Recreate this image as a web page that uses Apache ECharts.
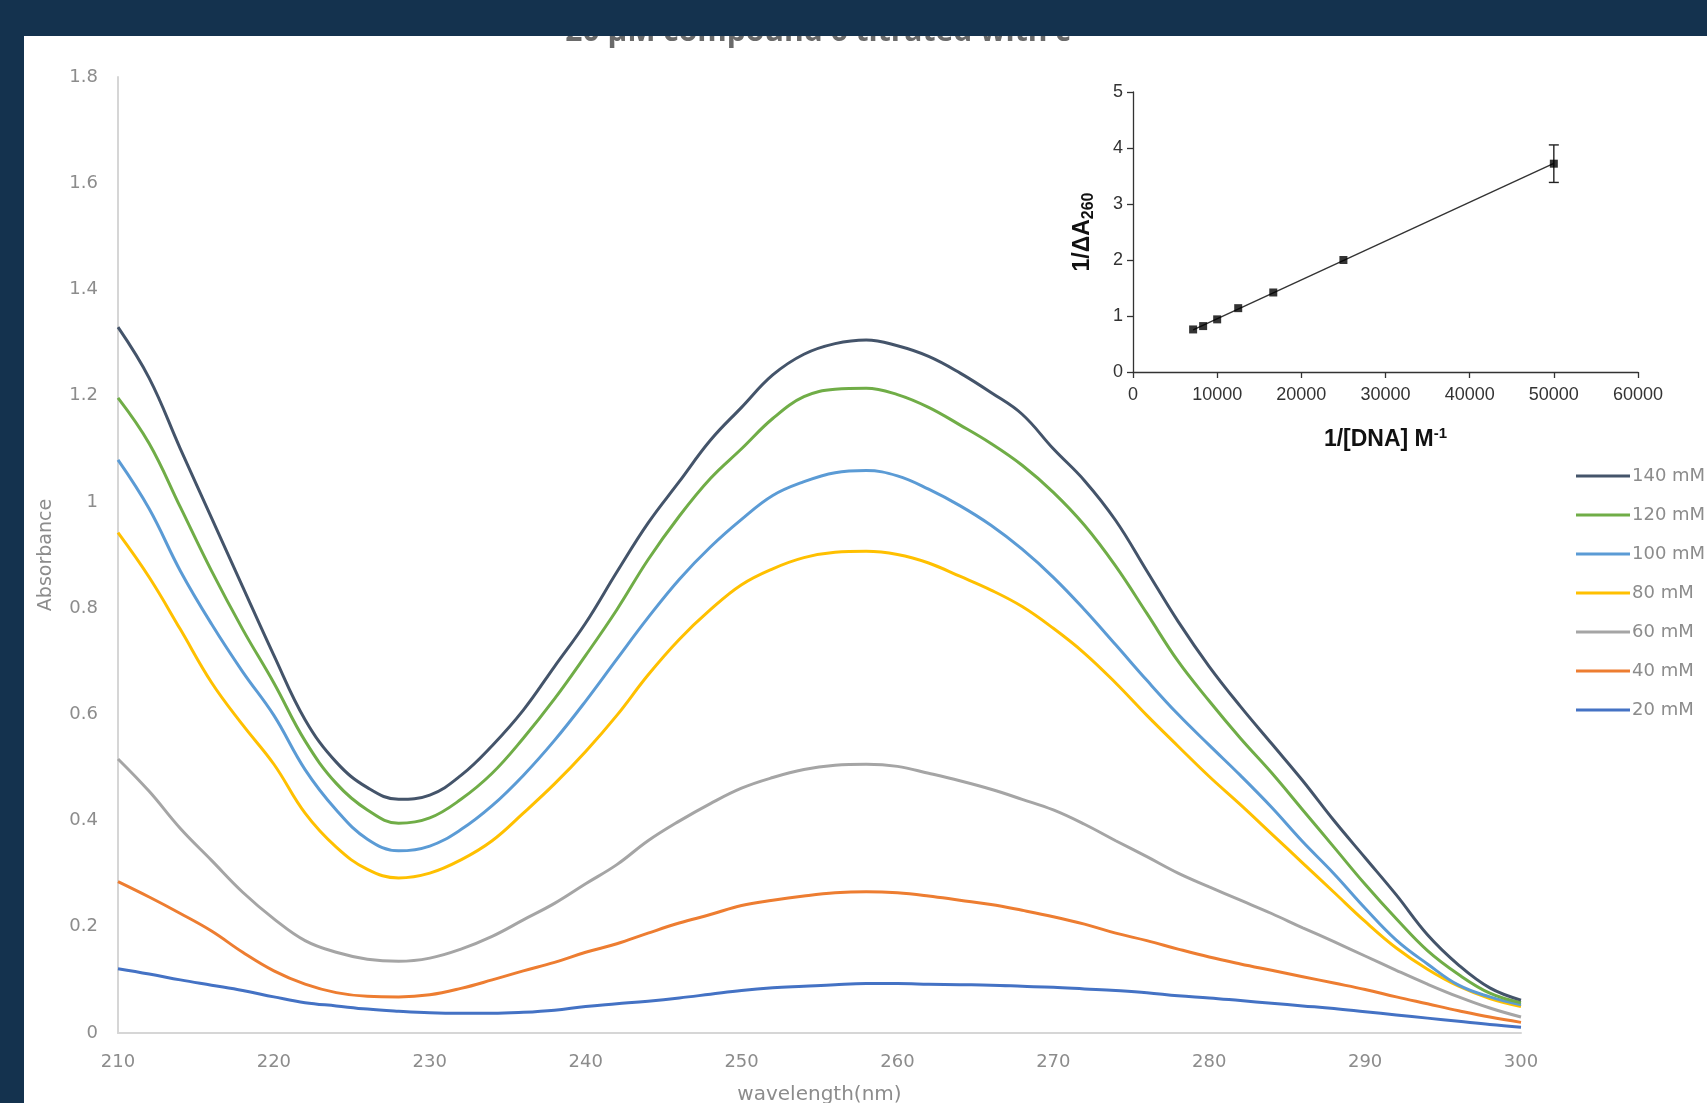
<!DOCTYPE html>
<html>
<head>
<meta charset="utf-8">
<script src="https://cdn.jsdelivr.net/npm/echarts@6/dist/echarts.min.js"></script>
<style>
html,body{margin:0;padding:0;width:1707px;height:1103px;overflow:hidden;background:#14324e;}
#chart{position:absolute;left:24px;top:36px;width:1683px;height:1067px;background:#ffffff;}
</style>
</head>
<body>
<div id="chart"></div>
<script>
// ---- main spectra data ----
const wavelengths = [210,212,214,216,218,220,222,224,226,228,230,232,234,236,238,240,242,244,246,248,250,252,254,256,258,260,262,264,266,268,270,272,274,276,278,280,282,284,286,288,290,292,294,296,298,300];
const seriesNames = ['140 mM','120 mM','100 mM','80 mM','60 mM','40 mM','20 mM'];
const abs140 = [1.329,1.233,1.10,0.97,0.84,0.711, 0.59,0.51,0.462,0.44,0.448,0.485,0.541,0.608,0.69,0.772, 0.868,0.96,1.038,1.116,1.178,1.239,1.278,1.298,1.305,1.294, 1.274,1.243,1.206,1.165,1.10,1.04,0.965,0.87,0.775,0.69, 0.615,0.545,0.475,0.40,0.33,0.26,0.185,0.128,0.085,0.062];
const abs120 = [1.196,1.11,0.99,0.87,0.76,0.659, 0.55,0.47,0.42,0.395,0.405,0.44,0.489,0.555,0.629,0.711, 0.797,0.891,0.973,1.044,1.10,1.157,1.198,1.212,1.214,1.202, 1.178,1.145,1.11,1.069,1.018,0.956,0.879,0.79,0.70,0.625, 0.555,0.49,0.42,0.35,0.28,0.215,0.155,0.11,0.075,0.057];
const abs100 = [1.079,0.987,0.87,0.77,0.68,0.598, 0.496,0.42,0.365,0.343,0.352,0.383,0.428,0.485,0.551,0.625, 0.704,0.782,0.854,0.915,0.967,1.012,1.038,1.055,1.059,1.049, 1.024,0.993,0.956,0.911,0.858,0.797,0.731,0.664,0.60,0.542, 0.485,0.425,0.36,0.30,0.235,0.175,0.13,0.09,0.068,0.053];
const abs80 = [0.942,0.858,0.76,0.66,0.58,0.506, 0.414,0.35,0.308,0.292,0.301,0.326,0.362,0.414,0.469,0.53, 0.598,0.674,0.741,0.797,0.844,0.874,0.895,0.905,0.907,0.901, 0.885,0.86,0.834,0.803,0.762,0.715,0.659,0.598,0.54,0.483, 0.43,0.375,0.32,0.265,0.21,0.16,0.12,0.088,0.065,0.05];
const abs60 = [0.516,0.455,0.385,0.325,0.265,0.215, 0.174,0.152,0.139,0.135,0.141,0.158,0.182,0.213,0.244,0.281, 0.317,0.362,0.399,0.432,0.461,0.481,0.496,0.504,0.506,0.502, 0.489,0.475,0.459,0.44,0.42,0.393,0.362,0.332,0.301,0.275, 0.25,0.225,0.198,0.172,0.145,0.118,0.092,0.068,0.047,0.03];
const abs40 = [0.285,0.256,0.225,0.192,0.152,0.117, 0.092,0.076,0.069,0.068,0.072,0.084,0.10,0.117,0.133,0.152, 0.168,0.188,0.207,0.223,0.24,0.25,0.258,0.264,0.266,0.264, 0.258,0.25,0.242,0.231,0.219,0.205,0.188,0.174,0.158,0.143, 0.13,0.118,0.106,0.094,0.082,0.068,0.055,0.042,0.03,0.02];
const abs20 = [0.121,0.111,0.10,0.09,0.08,0.068, 0.057,0.051,0.045,0.041,0.038,0.037,0.037,0.039,0.043,0.05, 0.055,0.06,0.066,0.073,0.08,0.085,0.088,0.091,0.093,0.093, 0.092,0.091,0.09,0.088,0.086,0.083,0.08,0.076,0.07,0.066, 0.061,0.056,0.051,0.046,0.04,0.034,0.028,0.022,0.016,0.011];
const seriesColors = ['#44546A','#70AD47','#5B9BD5','#FFC000','#A5A5A5','#ED7D31','#4472C4'];
const absTicks = [0,0.2,0.4,0.6,0.8,1,1.2,1.4,1.6,1.8];
const wlTicks = [210,220,230,240,250,260,270,280,290,300];

// ---- inset (double reciprocal) data ----
const invDNA = [7143, 8333, 10000, 12500, 16667, 25000, 50000];
const invDeltaA = [0.76, 0.82, 0.94, 1.14, 1.42, 2.0, 3.72];
const invDeltaAErr = [0, 0, 0, 0, 0, 0, 0.335];

const titleText = '20 μM compound 6 titrated with c';

const allAbs = [abs140, abs120, abs100, abs80, abs60, abs40, abs20];

// least squares fit for inset line
const n = invDNA.length;
let sx=0, sy=0, sxx=0, sxy=0;
for (let i=0;i<n;i++){ sx+=invDNA[i]; sy+=invDeltaA[i]; sxx+=invDNA[i]*invDNA[i]; sxy+=invDNA[i]*invDeltaA[i]; }
const slope = (n*sxy - sx*sy)/(n*sxx - sx*sx);
const intercept = (sy - slope*sx)/n;
const xMinFit = Math.min.apply(null, invDNA), xMaxFit = Math.max.apply(null, invDNA);

const mainFont = 'DejaVu Sans';
const greyText = '#8c8c8c';

const series = allAbs.map((arr, k) => ({
  name: seriesNames[k],
  type: 'line',
  xAxisIndex: 0, yAxisIndex: 0,
  data: wavelengths.map((w, i) => [w, arr[i]]),
  showSymbol: false, symbol: 'none',
  smooth: 0.4,
  lineStyle: {width: 3, color: seriesColors[k]},
  itemStyle: {color: seriesColors[k]},
  z: 3 + (allAbs.length - k)
}));

series.push({
  name: 'fit', type: 'line', xAxisIndex: 1, yAxisIndex: 1,
  data: [[xMinFit, intercept + slope*xMinFit], [xMaxFit, intercept + slope*xMaxFit]],
  symbol: 'none', lineStyle: {color: '#333', width: 1.4}, z: 20
});
series.push({
  name: 'errors', type: 'custom', xAxisIndex: 1, yAxisIndex: 1,
  data: invDNA.map((x, i) => [x, invDeltaA[i], invDeltaAErr[i]]),
  renderItem: function(params, api){
    const x = api.value(0), y = api.value(1), e = api.value(2);
    if (!e) return {type: 'group', children: []};
    const top = api.coord([x, y + e]);
    const bot = api.coord([x, y - e]);
    const cap = 5;
    const st = {stroke: '#222', lineWidth: 1.4};
    return {type: 'group', children: [
      {type: 'line', shape: {x1: top[0], y1: top[1], x2: bot[0], y2: bot[1]}, style: st},
      {type: 'line', shape: {x1: top[0]-cap, y1: top[1], x2: top[0]+cap, y2: top[1]}, style: st},
      {type: 'line', shape: {x1: bot[0]-cap, y1: bot[1], x2: bot[0]+cap, y2: bot[1]}, style: st}
    ]};
  },
  z: 21
});
series.push({
  name: 'points', type: 'scatter', xAxisIndex: 1, yAxisIndex: 1,
  data: invDNA.map((x, i) => [x, invDeltaA[i]]),
  symbol: 'rect', symbolSize: 8, itemStyle: {color: '#000'}, z: 22
});

const insetFont = 'Liberation Sans';
const chart = echarts.init(document.getElementById('chart'), null, {renderer: 'canvas'});
chart.setOption({
  animation: false,
  backgroundColor: '#ffffff',
  graphic: [{
    type: 'text', x: 794, y: 11, z: 50,
    style: {text: titleText, align: 'center', verticalAlign: 'bottom',
      font: 'bold 30px "Open Sans"', fill: '#6a6a6a'}
  }],
  legend: {
    data: seriesNames, orient: 'vertical', left: 1552, top: 431, padding: 0,
    itemWidth: 54, itemHeight: 3, itemGap: 21, icon: 'rect',
    textStyle: {color: greyText, fontSize: 18, fontFamily: mainFont, lineHeight: 18, padding: [0,0,0,-3]}
  },
  grid: [
    {left: 94, right: 186, top: 41, bottom: 70, containLabel: false, outerBoundsMode: 'none'},
    {left: 1109, right: 69, top: 56, bottom: 731, containLabel: false, outerBoundsMode: 'none'}
  ],
  xAxis: [
    {gridIndex: 0, type: 'value', min: wlTicks[0], max: wlTicks[wlTicks.length-1], interval: 10,
      axisLine: {show: true, lineStyle: {color: '#d6d6d6', width: 2}},
      axisTick: {show: false}, splitLine: {show: false},
      axisLabel: {color: greyText, fontSize: 18, fontFamily: mainFont, margin: 20, showMinLabel: true, showMaxLabel: true},
      name: 'wavelength(nm)', nameLocation: 'middle', nameGap: 52,
      nameTextStyle: {color: greyText, fontSize: 20, fontFamily: mainFont}},
    {gridIndex: 1, type: 'value', min: 0, max: 60000, interval: 10000,
      axisLine: {show: true, onZero: false, lineStyle: {color: '#333', width: 1.3}},
      axisTick: {show: true, length: 6, lineStyle: {color: '#333', width: 1.3}},
      splitLine: {show: false},
      axisLabel: {color: '#333', fontSize: 18, fontFamily: insetFont, margin: 14, showMinLabel: true, showMaxLabel: true,
        formatter: function(v){ return String(v); }},
      name: '1/[DNA] M{sup|-1}', nameLocation: 'middle', nameGap: 54,
      nameTextStyle: {color: '#111', fontSize: 23, fontWeight: 'bold', fontFamily: insetFont, lineHeight: 28,
        rich: {sup: {fontSize: 15, fontWeight: 'bold', fontFamily: insetFont, color: '#111', verticalAlign: 'top', lineHeight: 28}}}}
  ],
  yAxis: [
    {gridIndex: 0, type: 'value', min: absTicks[0], max: absTicks[absTicks.length-1], interval: 0.2,
      axisLine: {show: true, lineStyle: {color: '#d6d6d6', width: 2}},
      axisTick: {show: false}, splitLine: {show: false},
      axisLabel: {color: greyText, fontSize: 18, fontFamily: mainFont, margin: 20},
      name: 'Absorbance', nameLocation: 'middle', nameGap: 62,
      nameTextStyle: {color: greyText, fontSize: 19, fontFamily: mainFont}},
    {gridIndex: 1, type: 'value', min: 0, max: 5, interval: 1,
      axisLine: {show: true, onZero: false, lineStyle: {color: '#333', width: 1.3}},
      axisTick: {show: true, length: 6, lineStyle: {color: '#333', width: 1.3}},
      splitLine: {show: false},
      axisLabel: {color: '#333', fontSize: 18, fontFamily: insetFont, margin: 10},
      name: '1/ΔA{sub|260}', nameLocation: 'middle', nameGap: 36,
      nameTextStyle: {color: '#111', fontSize: 23, fontWeight: 'bold', fontFamily: insetFont, lineHeight: 28,
        rich: {sub: {fontSize: 16, fontWeight: 'bold', fontFamily: insetFont, color: '#111', verticalAlign: 'bottom', lineHeight: 28}}}}
  ],
  series: series
});
</script>
</body>
</html>
